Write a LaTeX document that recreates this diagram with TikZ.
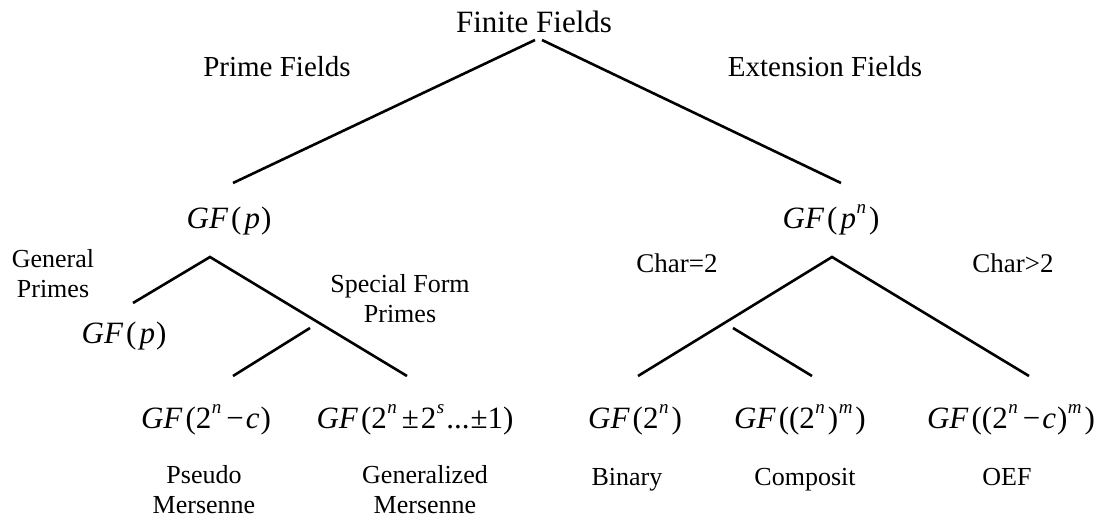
\documentclass[tikz,border=0pt]{standalone}
\usepackage{fontspec}
\setmainfont{Liberation Serif}
% small italic exponent for the field formulas
\newcommand{\ex}[1]{\kern0.5pt\raisebox{0.48em}{\fontsize{19}{19}\selectfont\itshape #1}}
\newcommand{\GFn}{\textit{GF}\kern3pt}
\newcommand{\opsp}[1]{\kern5pt#1\kern2pt}
\begin{document}
\begin{tikzpicture}[x=1pt,y=-1pt,
  head/.style={inner sep=0pt, anchor=base, font=\fontsize{29}{30}\selectfont},
  sub/.style={inner sep=0pt, anchor=base, align=center, font=\fontsize{26}{30}\selectfont},
  frm/.style={inner sep=0pt, anchor=base, font=\fontsize{31}{32}\selectfont},
  edge/.style={line width=2.6pt}]
\useasboundingbox (0,0) rectangle (1114,519);

% ---- labels ----
\node[head, font=\fontsize{31}{32}\selectfont] (ff) at (534,33) {Finite Fields};
\node[head] (pf) at (277,77) {Prime Fields};
\node[head] (ef) at (825,77) {Extension Fields};

\node[frm] (gfp) at (229,228) {\GFn(\kern3pt\textit{p}\kern1pt)};
\node[frm] (gfpn) at (831,228) {\GFn(\kern3pt\textit{p}\ex{n}\kern3pt)};

\node[sub] (genp) at (53,297) {General\\Primes};
\node[sub] (spfp) at (400,322) {Special Form\\Primes};
\node[frm] (gfp2) at (124,343) {\GFn(\kern3pt\textit{p}\kern1pt)};

\node[sub, font=\fontsize{27}{30}\selectfont] (ch2) at (677,272) {Char=2};
\node[sub, font=\fontsize{27}{30}\selectfont] (chg2) at (1013,272) {Char>2};

\node[frm] (pm) at (206,428) {\GFn(2\ex{n}\opsp{−}\textit{c}\kern1pt)};
\node[frm] (gm) at (415,428) {\GFn(2\ex{n}\opsp{±}2\ex{s}\kern2pt...\kern1pt±1)};
\node[frm] (bin) at (635,428) {\GFn(2\ex{n}\kern3pt)};
\node[frm] (cmp) at (800,428) {\GFn((2\ex{n}\kern3pt)\ex{m}\kern3pt)};
\node[frm] (oef) at (1011,428) {\GFn((2\ex{n}\opsp{−}\textit{c}\kern1pt)\ex{m}\kern3pt)};

\node[sub] (pmt) at (204,513) {Pseudo\\Mersenne};
\node[sub] (gmt) at (425,513) {Generalized\\Mersenne};
\node[sub] (bint) at (627,485) {Binary};
\node[sub] (cmpt) at (805,485) {Composit};
\node[sub] (oeft) at (1007,485) {OEF};

% ---- branch points ----
\coordinate (ffL) at (535,40);
\coordinate (ffR) at (542,40);
\coordinate (pfEnd) at (233,183);
\coordinate (efEnd) at (841,183);

\coordinate (pTop) at (210,257);
\coordinate (gpEnd) at (133,303);
\coordinate (spEnd) at (407,376);
\coordinate (pBrA) at (310,328);
\coordinate (pBrB) at (233,376);

\coordinate (eTop) at (832,257);
\coordinate (c2End) at (638,376);
\coordinate (cgEnd) at (1029,376);
\coordinate (eBrA) at (733,328);
\coordinate (eBrB) at (812,376);

% ---- tree edges ----
\draw[edge] (ffL) -- (pfEnd);
\draw[edge] (ffR) -- (efEnd);

\draw[edge] (gpEnd) -- (pTop) -- (spEnd);
\draw[edge] (pBrA) -- (pBrB);

\draw[edge] (c2End) -- (eTop) -- (cgEnd);
\draw[edge] (eBrA) -- (eBrB);
\end{tikzpicture}
\end{document}
